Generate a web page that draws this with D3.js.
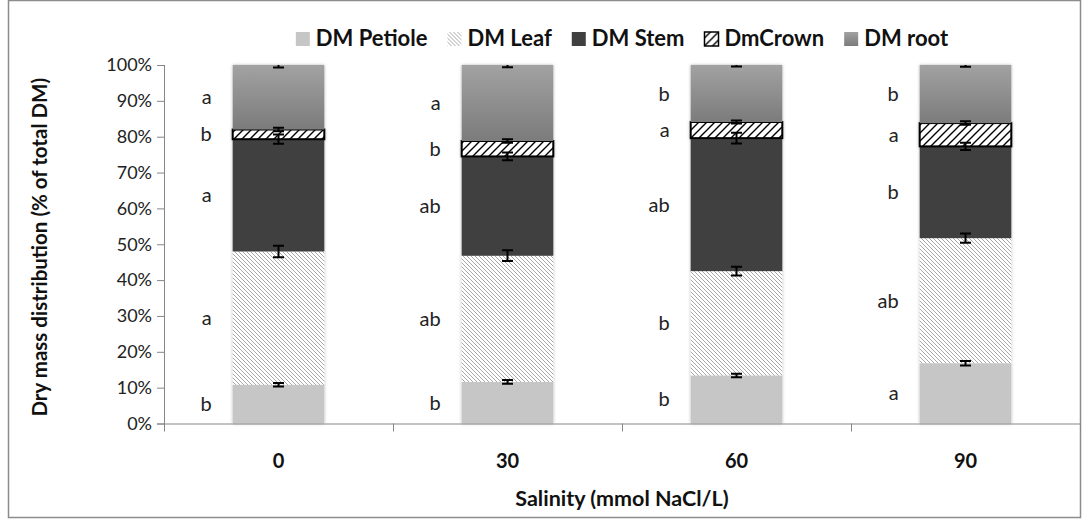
<!DOCTYPE html>
<html>
<head>
<meta charset="utf-8">
<script src="https://cdn.jsdelivr.net/npm/d3@7"></script>
<style>
  body { margin: 0; background: #fff; }
  svg { font-family: Lato, "Open Sans", sans-serif; }
</style>
</head>
<body>
<div id="vis"></div>
<script>
// salinity levels (mmol NaCl/L)
var categories = ["0", "30", "60", "90"];
var seriesNames = ["DM Petiole", "DM Leaf", "DM Stem", "DmCrown", "DM root"];

// share of total dry mass, %
var petiole = [10.8, 11.6, 13.4, 16.8];
var leaf    = [37.2, 35.2, 29.1, 34.9];
var stem    = [31.3, 27.7, 37.1, 25.6];
var crown   = [2.7, 4.3, 4.5, 6.5];
var root    = [18.0, 21.2, 15.9, 16.2];

// standard errors, %
var errPetiole = [0.5, 0.5, 0.5, 0.6];
var errLeaf    = [1.6, 1.5, 1.2, 1.3];
var errStem    = [1.3, 1.1, 1.5, 1.0];
var errCrown   = [0.5, 0.5, 0.4, 0.5];
var errRoot    = [0.7, 0.6, 0.4, 0.5];

// significance letters
var letPetiole = ["b", "b", "b", "a"];
var letLeaf    = ["a", "ab", "b", "ab"];
var letStem    = ["a", "ab", "ab", "b"];
var letCrown   = ["b", "b", "a", "a"];
var letRoot    = ["a", "a", "b", "b"];

var yTicks = [0, 10, 20, 30, 40, 50, 60, 70, 80, 90, 100];

var values = [petiole, leaf, stem, crown, root];
var errors = [errPetiole, errLeaf, errStem, errCrown, errRoot];
var letters = [letPetiole, letLeaf, letStem, letCrown, letRoot];

var width = 1089, height = 519;
var margin = { top: 65, right: 9, bottom: 95.5, left: 164 };
var drawWidth = width - margin.left - margin.right,
    drawHeight = height - margin.top - margin.bottom;

var rows = categories.map(function(c, i) {
    var r = { cat: c };
    seriesNames.forEach(function(s, j) { r[s] = values[j][i]; });
    return r;
});
var stacked = d3.stack().keys(seriesNames)(rows);

var x = d3.scaleBand().domain(categories).range([0, drawWidth]).paddingInner(0.6).paddingOuter(0.3);
var xTick = d3.scaleBand().domain(categories).range([0, drawWidth]);
var y = d3.scaleLinear().domain([0, 100]).range([drawHeight, 0]);

var svg = d3.select("#vis").append("svg")
    .attr("width", width)
    .attr("height", height);

var defs = svg.append("defs");

// light downward diagonal (leaf)
var pLeaf = defs.append("pattern").attr("id", "leafHatch")
    .attr("patternUnits", "userSpaceOnUse").attr("width", 4).attr("height", 4);
pLeaf.append("rect").attr("width", 4).attr("height", 4).attr("fill", "#fff");
pLeaf.append("path").attr("d", "M-1,-1 L5,5 M-1,3 L1,5 M3,-1 L5,1")
    .attr("stroke", "#a8a8a8").attr("stroke-width", 1);

// wide upward diagonal (crown)
var pCrown = defs.append("pattern").attr("id", "crownHatch")
    .attr("patternUnits", "userSpaceOnUse").attr("width", 8).attr("height", 8);
pCrown.append("rect").attr("width", 8).attr("height", 8).attr("fill", "#fff");
pCrown.append("path").attr("d", "M-1,9 L9,-1 M-3,3 L3,-3 M5,11 L11,5")
    .attr("stroke", "#000").attr("stroke-width", 1.4);

var grad = defs.append("linearGradient").attr("id", "rootGrad")
    .attr("x1", 0).attr("y1", 0).attr("x2", 0).attr("y2", 1);
grad.append("stop").attr("offset", "0%").attr("stop-color", "#a2a2a2");
grad.append("stop").attr("offset", "100%").attr("stop-color", "#7b7b7b");

defs.append("clipPath").attr("id", "plotClip").append("rect")
    .attr("x", -20).attr("y", 0).attr("width", drawWidth + 40).attr("height", drawHeight);

var shadow = defs.append("filter").attr("id", "shadow")
    .attr("x", "-10%").attr("y", "-2%").attr("width", "120%").attr("height", "104%");
shadow.append("feDropShadow").attr("dx", 0).attr("dy", 0).attr("stdDeviation", 1.5)
    .attr("flood-color", "#000").attr("flood-opacity", 0.3);

var fills = ["#c6c6c6", "url(#leafHatch)", "#404040", "url(#crownHatch)", "url(#rootGrad)"];

// outer chart border
svg.append("rect")
    .attr("x", 8.5).attr("y", 0.5)
    .attr("width", 1072).attr("height", 517)
    .attr("fill", "none").attr("stroke", "#8c8c8c").attr("stroke-width", 1.5);

var g = svg.append("g")
    .attr("transform", "translate(" + margin.left + "," + margin.top + ")");

// bars
var barG = g.append("g").attr("filter", "url(#shadow)");
stacked.forEach(function(layer, j) {
    barG.selectAll(".seg" + j)
        .data(layer)
        .enter().append("rect")
        .attr("x", function(d) { return x(d.data.cat); })
        .attr("y", function(d) { return y(d[1]); })
        .attr("width", x.bandwidth())
        .attr("height", function(d) { return y(d[0]) - y(d[1]); })
        .attr("fill", fills[j])
        .attr("stroke", j === 3 ? "#000" : "none")
        .attr("stroke-width", j === 3 ? 2 : 0);
});

// axes
var yAxis = d3.axisLeft(y).tickValues(yTicks).tickSize(7).tickPadding(5)
    .tickFormat(function(d) { return d + "%"; });
var yG = g.append("g").call(yAxis);
yG.select(".domain").attr("stroke", "#868686").attr("d", "M0.5,0V" + (drawHeight + 8));
yG.selectAll(".tick line").attr("stroke", "#868686");
yG.selectAll(".tick text").attr("font-size", 18).attr("fill", "#222").attr("font-family", "Lato, sans-serif");

var xAxisG = g.append("g").attr("transform", "translate(0," + drawHeight + ")");
xAxisG.append("path").attr("d", "M-7,0.5H" + drawWidth).attr("stroke", "#868686");
xAxisG.selectAll(".xt")
    .data(categories)
    .enter().append("line")
    .attr("x1", function(d) { return xTick(d) + xTick.bandwidth() + 0.5; })
    .attr("x2", function(d) { return xTick(d) + xTick.bandwidth() + 0.5; })
    .attr("y1", 0).attr("y2", 8)
    .attr("stroke", "#868686");
xAxisG.selectAll(".xl")
    .data(categories)
    .enter().append("text")
    .attr("x", function(d) { return x(d) + x.bandwidth() / 2; })
    .attr("y", 44)
    .attr("text-anchor", "middle")
    .attr("font-size", 20).attr("font-weight", "bold").attr("fill", "#111")
    .text(function(d) { return d; });

// error bars
var errG = g.append("g").attr("clip-path", "url(#plotClip)");
stacked.forEach(function(layer, j) {
    layer.forEach(function(d, i) {
        var cx = x(d.data.cat) + x.bandwidth() / 2;
        var lo = y(d[1] - errors[j][i]), hi = y(d[1] + errors[j][i]);
        errG.append("path")
            .attr("d", "M" + cx + "," + lo + "V" + hi +
                "M" + (cx - 5.5) + "," + lo + "H" + (cx + 5.5) +
                "M" + (cx - 5.5) + "," + hi + "H" + (cx + 5.5))
            .attr("stroke", "#000").attr("stroke-width", 2).attr("fill", "none");
    });
});

// letters
stacked.forEach(function(layer, j) {
    g.selectAll(".let" + j)
        .data(layer)
        .enter().append("text")
        .attr("x", function(d) { return x(d.data.cat) - 21; })
        .attr("y", function(d) { return y((d[0] + d[1]) / 2); })
        .attr("dy", "0.35em")
        .attr("text-anchor", "end")
        .attr("font-size", 20).attr("fill", "#222")
        .text(function(d, i) { return letters[j][i]; });
});

// axis titles
svg.append("text")
    .attr("transform", "translate(47," + (margin.top + drawHeight / 2 + 3) + ") rotate(-90)")
    .attr("text-anchor", "middle")
    .attr("font-size", 20.5).attr("font-weight", "bold").attr("fill", "#111")
    .text("Dry mass distribution (% of total DM)");

svg.append("text")
    .attr("x", margin.left + drawWidth / 2)
    .attr("y", 506)
    .attr("text-anchor", "middle")
    .attr("font-size", 21.5).attr("font-weight", "bold").attr("fill", "#111")
    .text("Salinity (mmol NaCl/L)");

// legend
var legend = svg.append("g");
var lx = 0;
seriesNames.forEach(function(s, j) {
    var item = legend.append("g").attr("transform", "translate(" + lx + ",0)");
    item.append("rect")
        .attr("x", 0).attr("y", -14).attr("width", 14).attr("height", 14)
        .attr("fill", fills[j])
        .attr("stroke", j === 3 ? "#000" : "none")
        .attr("stroke-width", j === 3 ? 1.5 : 0);
    var t = item.append("text")
        .attr("x", 20).attr("y", 0)
        .attr("font-size", 22).attr("font-weight", "bold").attr("fill", "#111")
        .text(s);
    lx += 20 + t.node().getComputedTextLength() + 20;
});
lx -= 20;
legend.attr("transform", "translate(" + (margin.left + drawWidth / 2 - lx / 2) + ",46)");
</script>
</body>
</html>
